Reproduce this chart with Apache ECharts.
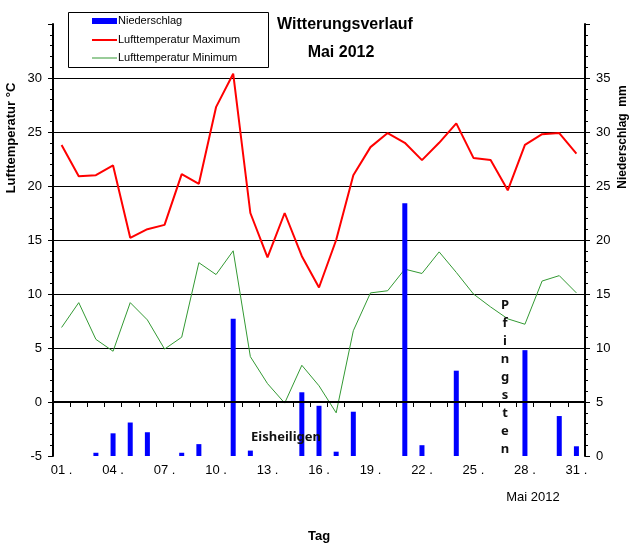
<!DOCTYPE html>
<html>
<head>
<meta charset="utf-8">
<script src="https://cdn.jsdelivr.net/npm/echarts@6/dist/echarts.min.js"></script>
<style>html,body{margin:0;padding:0;background:#fff}#c{width:634px;height:548px}</style>
</head>
<body>
<div id="c"></div>
<script>
const days = ['01','02','03','04','05','06','07','08','09','10','11','12','13','14','15','16','17','18','19','20','21','22','23','24','25','26','27','28','29','30','31'];
const tempMax = [23.8,20.9,21.0,21.9,15.2,16.0,16.4,21.1,20.2,27.3,30.4,17.5,13.4,17.5,13.5,10.6,15.0,21.0,23.6,24.9,24.0,22.4,24.0,25.8,22.6,22.4,19.6,23.8,24.8,24.9,23.0];
const tempMin = [6.9,9.2,5.8,4.7,9.2,7.6,4.9,6.0,12.9,11.8,14.0,4.2,1.7,-0.1,3.4,1.5,-1.0,6.6,10.1,10.3,12.3,11.9,13.9,12.0,10.0,8.8,7.7,7.2,11.2,11.7,10.1];
const rain = [0,0,0.3,2.1,3.1,2.2,0,0.3,1.1,0,12.7,0.5,0,0,5.9,4.65,0.4,4.1,0,0,23.4,1.0,0,7.9,0,0,0,9.8,0,3.7,0.9];
const tempTicks = {min:-5, max:35, interval:5};
const rainTicks = {min:0, max:40, interval:5};

const chart = echarts.init(document.getElementById('c'));
const F = 'Liberation Sans, Arial, sans-serif';
const legendText = {fontSize: 11, color: '#000', fontFamily: F, lineHeight: 12, padding: [0, 0, 0, -4]};
function mkLegend(name, top, h, color) {
  return {orient: 'vertical', left: 92, top: top, padding: 0, itemWidth: 25, itemHeight: h, itemGap: 0,
    textStyle: legendText, data: [{name: name, icon: 'rect', itemStyle: {color: color}}]};
}
chart.setOption({
  animation: false,
  textStyle: {fontFamily: F},
  grid: {left: 53, right: 49, top: 24, bottom: 92, containLabel: false},
  legend: [
    mkLegend('Niederschlag', 15, 6, '#0000ff'),
    mkLegend('Lufttemperatur Maximum', 34, 2, '#ff0000'),
    mkLegend('Lufttemperatur Minimum', 52, 1, '#339933')
  ],
  xAxis: {
    type: 'category', data: days, boundaryGap: true,
    name: 'Tag', nameLocation: 'middle', nameGap: 74,
    nameTextStyle: {fontSize: 13, fontWeight: 'bold', color: '#000', fontFamily: F},
    axisLine: {lineStyle: {color: '#000', width: 2}},
    axisTick: {show: true, interval: 0, length: 5, lineStyle: {color: '#000', width: 1}},
    axisLabel: {interval: 2, formatter: v => v + ' .', fontSize: 13, color: '#000', margin: 8, fontFamily: F},
    splitLine: {show: false}
  },
  yAxis: [
    {
      type: 'value', min: tempTicks.min, max: tempTicks.max, interval: tempTicks.interval,
      axisLine: {show: true, lineStyle: {color: '#000', width: 2}},
      axisTick: {show: true, length: 5, lineStyle: {color: '#000'}},
      minorTick: {show: true, splitNumber: 5, length: 3, lineStyle: {color: '#000'}},
      axisLabel: {showMaxLabel: false, fontSize: 13, color: '#000', margin: 11, fontFamily: F},
      splitLine: {show: true, showMinLine: false, showMaxLine: false, lineStyle: {color: '#000', width: 1}}
    },
    {
      type: 'value', min: rainTicks.min, max: rainTicks.max, interval: rainTicks.interval, position: 'right',
      axisLine: {show: true, lineStyle: {color: '#000', width: 2}},
      axisTick: {show: true, length: 5, lineStyle: {color: '#000'}},
      minorTick: {show: true, splitNumber: 5, length: 3, lineStyle: {color: '#000'}},
      axisLabel: {showMaxLabel: false, fontSize: 13, color: '#000', margin: 11, fontFamily: F},
      splitLine: {show: false}
    }
  ],
  series: [
    {
      name: 'Niederschlag', type: 'bar', yAxisIndex: 1, data: rain, barWidth: 5,
      itemStyle: {color: '#0000ff'}, z: 3
    },
    {
      name: 'Lufttemperatur Maximum', type: 'line', yAxisIndex: 0, data: tempMax,
      symbol: 'none', lineStyle: {color: '#ff0000', width: 2}, itemStyle: {color: '#ff0000'}, z: 2
    },
    {
      name: 'Lufttemperatur Minimum', type: 'line', yAxisIndex: 0, data: tempMin,
      symbol: 'none', lineStyle: {color: '#339933', width: 1}, itemStyle: {color: '#339933'}, z: 2,
    },
    {
      name: 'zero', type: 'line', yAxisIndex: 0, data: [], z: 4,
      markLine: {silent: true, symbol: 'none', label: {show: false},
        lineStyle: {color: '#000', width: 2, type: 'solid'}, data: [{yAxis: 0}]}
    }
  ],
  graphic: [
    {type: 'rect', shape: {x: 68.5, y: 12.5, width: 200, height: 55}, style: {fill: 'none', stroke: '#000', lineWidth: 1}, z: 10},
    {type: 'text', x: 345, y: 25, style: {text: 'Witterungsverlauf', font: 'bold 16px ' + F, fill: '#000', textAlign: 'center', textVerticalAlign: 'middle'}},
    {type: 'text', x: 341, y: 53, style: {text: 'Mai 2012', font: 'bold 16px ' + F, fill: '#000', textAlign: 'center', textVerticalAlign: 'middle'}},
    {type: 'text', x: 11, y: 138, rotation: Math.PI / 2, style: {text: 'Lufttemperatur °C', font: 'bold 13px ' + F, fill: '#000', textAlign: 'center', textVerticalAlign: 'middle'}},
    {type: 'text', x: 623, y: 137, rotation: Math.PI / 2, style: {text: 'Niederschlag  mm', font: 'bold 12px ' + F, fill: '#000', textAlign: 'center', textVerticalAlign: 'middle'}},
    {type: 'text', x: 533, y: 497, style: {text: 'Mai 2012', font: '13px ' + F, fill: '#000', textAlign: 'center', textVerticalAlign: 'middle'}},
    {type: 'text', x: 251, y: 437, z: 10, style: {text: 'Eisheiligen', font: 'bold 13px Noto Sans', fill: '#111', textAlign: 'left', textVerticalAlign: 'middle'}},
    {type: 'text', x: 505, y: 296, z: 10, style: {text: 'P\nf\ni\nn\ng\ns\nt\ne\nn', font: 'bold 13px Noto Sans', lineHeight: 18, fill: '#111', textAlign: 'center', textVerticalAlign: 'top'}}
  ]
});
</script>
</body>
</html>
